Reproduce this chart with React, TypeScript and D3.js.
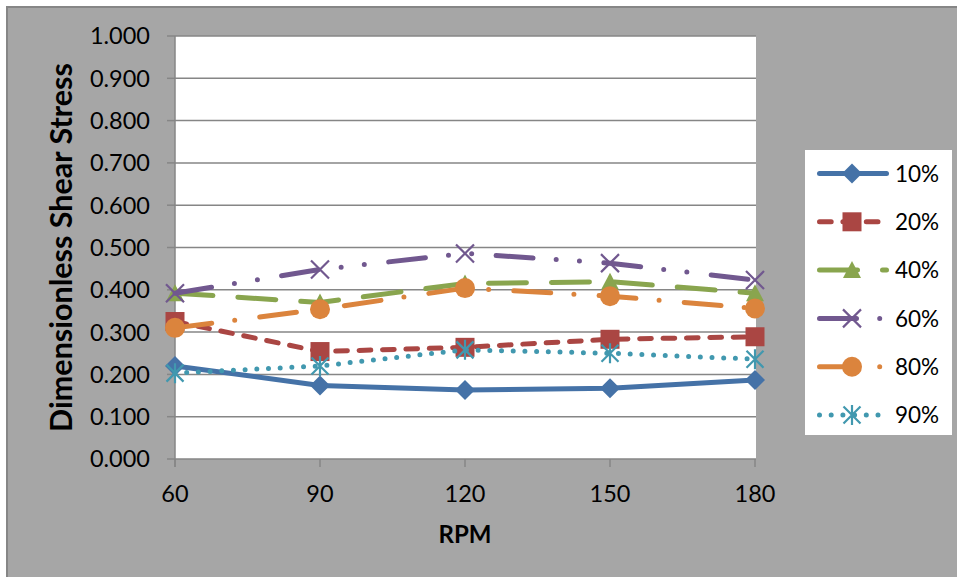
import React from 'react';
import * as d3 from 'd3';

const categories = [60, 90, 120, 150, 180];
const seriesNames = ['10%', '20%', '40%', '60%', '80%', '90%'];
const s10 = [0.220, 0.174, 0.163, 0.167, 0.187];
const s20 = [0.325, 0.254, 0.264, 0.283, 0.289];
const s40 = [0.392, 0.370, 0.415, 0.419, 0.392];
const s60 = [0.392, 0.448, 0.486, 0.463, 0.423];
const s80 = [0.310, 0.354, 0.404, 0.385, 0.356];
const s90 = [0.203, 0.220, 0.258, 0.250, 0.236];
const yTicks = [0, 0.1, 0.2, 0.3, 0.4, 0.5, 0.6, 0.7, 0.8, 0.9, 1.0];

const seriesValues = [s10, s20, s40, s60, s80, s90];
const colors = ['#4572A7', '#AA4643', '#89A54E', '#71588F', '#DB843D', '#4198AF'];
const dashes = ['none', '11.7 11.7', '38 25', '37 23.2 0 23.3 0 24.5', '37 23.2 0 25.2', '0 11.7'];
const markers = ['diamond', 'square', 'triangle', 'x', 'circle', 'star'];

const W = 957, H = 577;
const plot = { left: 175, right: 756, top: 36, bottom: 459 };
const FONT = 'Lato, "Open Sans", sans-serif';
const LW = 5;

function Marker({ type, x, y, color }: { type: string; x: number; y: number; color: string }) {
  switch (type) {
    case 'diamond':
      return <path d={`M${x},${y - 10}L${x + 10},${y}L${x},${y + 10}L${x - 10},${y}Z`} fill={color} />;
    case 'square':
      return <rect x={x - 9.5} y={y - 9.5} width={19} height={19} fill={color} />;
    case 'triangle':
      return <path d={`M${x},${y - 9}L${x + 9},${y + 8}L${x - 9},${y + 8}Z`} fill={color} />;
    case 'x':
      return (
        <path d={`M${x - 9},${y - 9}L${x + 9},${y + 9}M${x - 9},${y + 9}L${x + 9},${y - 9}`} stroke={color} strokeWidth={2.2} fill="none" />
      );
    case 'circle':
      return <circle cx={x} cy={y} r={10} fill={color} />;
    case 'star':
      return (
        <path
          d={`M${x},${y - 10}L${x},${y + 10}M${x - 8.5},${y - 8.5}L${x + 8.5},${y + 8.5}M${x - 8.5},${y + 8.5}L${x + 8.5},${y - 8.5}`}
          stroke={color}
          strokeWidth={2.2}
          fill="none"
        />
      );
    default:
      return null;
  }
}

export default function App() {
  const x = d3.scalePoint<number>().domain(categories).range([plot.left, plot.right - 1]);
  const y = d3.scaleLinear().domain([0, 1]).range([plot.bottom, plot.top]);
  const fmt = d3.format('.3f');
  const line = d3
    .line<number>()
    .x((_, i) => x(categories[i]) as number)
    .y((d) => y(d));

  const legendX = 805, legendY = 150, legendW = 147, legendH = 285;
  const legendRow0 = 173.5, legendStep = 48.3;

  return (
    <svg width={W} height={H} style={{ position: 'absolute', left: 0, top: 0 }}>
      <rect x={0} y={0} width={W} height={H} fill="#ffffff" />
      <rect x={7} y={7} width={W + 20} height={H + 20} fill="#A6A6A6" stroke="#868686" strokeWidth={2} />
      <rect x={plot.left} y={plot.top} width={plot.right - plot.left} height={plot.bottom - plot.top} fill="#ffffff" />
      {yTicks.map((t) => (
        <g key={t}>
          {t > 0 && (
            <line x1={plot.left} x2={plot.right} y1={y(t)} y2={y(t)} stroke="#868686" strokeWidth={1.5} />
          )}
          <line x1={plot.left - 8} x2={plot.left} y1={y(t)} y2={y(t)} stroke="#868686" strokeWidth={1.5} />
          <text
            x={150}
            y={y(t)}
            dy="0.36em"
            textAnchor="end"
            fontFamily={FONT}
            fontSize={23.5}
            fill="#000"
          >
            {fmt(t)}
          </text>
        </g>
      ))}
      <line x1={plot.left} x2={plot.left} y1={plot.top} y2={plot.bottom + 8} stroke="#868686" strokeWidth={1.5} />
      <line x1={plot.left} x2={plot.right} y1={plot.bottom} y2={plot.bottom} stroke="#868686" strokeWidth={1.5} />
      {categories.map((c) => (
        <g key={c}>
          <line x1={x(c)} x2={x(c)} y1={plot.bottom} y2={plot.bottom + 8} stroke="#868686" strokeWidth={1.5} />
          <text x={x(c)} y={502} textAnchor="middle" fontFamily={FONT} fontSize={23.5} fill="#000">
            {c}
          </text>
        </g>
      ))}
      <text
        transform={`translate(72,${(plot.top + plot.bottom) / 2}) rotate(-90)`}
        textAnchor="middle"
        fontFamily={FONT}
        fontWeight="bold"
        fontSize={30.5}
        fill="#000"
      >
        Dimensionless Shear Stress
      </text>
      <text x={465} y={543} textAnchor="middle" fontFamily={FONT} fontWeight="bold" fontSize={24} fill="#000">
        RPM
      </text>

      {seriesValues.map((vals, si) => (
        <g key={si}>
          <path
            d={line(vals) || ''}
            fill="none"
            stroke={colors[si]}
            strokeWidth={LW}
            strokeDasharray={dashes[si]}
            strokeLinecap="round"
            strokeLinejoin="round"
          />
          {vals.map((v, i) => (
            <Marker key={i} type={markers[si]} x={x(categories[i]) as number} y={y(v)} color={colors[si]} />
          ))}
        </g>
      ))}

      <rect x={legendX} y={legendY} width={legendW} height={legendH} fill="#ffffff" />
      {seriesNames.map((name, si) => {
        const ly = legendRow0 + si * legendStep;
        return (
          <g key={name}>
            <line
              x1={819.5}
              x2={886.5}
              y1={ly}
              y2={ly}
              stroke={colors[si]}
              strokeWidth={LW}
              strokeDasharray={dashes[si]}
              strokeLinecap="round"
            />
            <Marker type={markers[si]} x={852} y={ly} color={colors[si]} />
            <text x={895} y={ly} dy="0.36em" fontFamily={FONT} fontSize={22.5} fill="#000">
              {name}
            </text>
          </g>
        );
      })}
    </svg>
  );
}
